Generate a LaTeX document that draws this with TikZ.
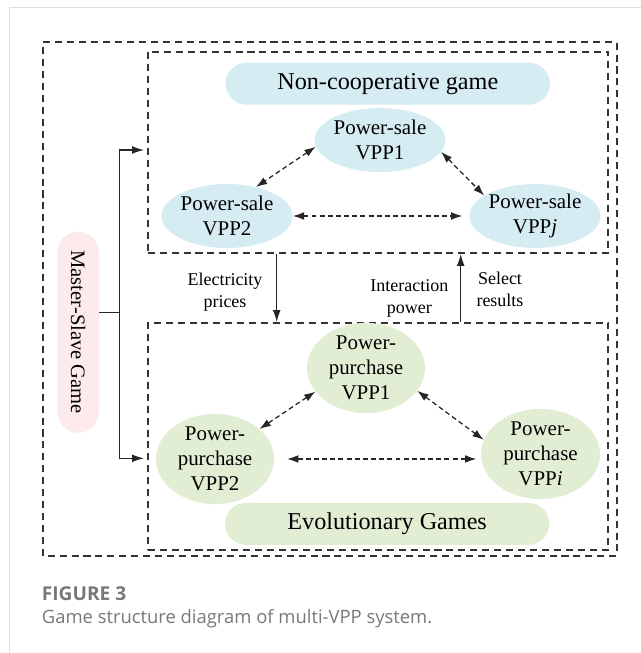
\documentclass[tikz,border=0pt]{standalone}
\usepackage{fontspec}
\setmainfont{Liberation Serif}
\newfontfamily\capfont{Open Sans}
\usetikzlibrary{shapes.geometric,arrows.meta}

\definecolor{saleblue}{RGB}{214,236,243}
\definecolor{buygreen}{RGB}{226,238,212}
\definecolor{masterpink}{RGB}{253,234,234}
\definecolor{framegray}{RGB}{220,220,220}
\definecolor{capgray}{RGB}{120,120,120}

\begin{document}
\begin{tikzpicture}[
  box/.style={draw=black!80, line width=1.3pt, dash pattern=on 5pt off 3.5pt},
  sale/.style={ellipse, fill=saleblue, minimum width=2.95cm, minimum height=1.6cm, inner sep=0pt, align=center, font=\fontsize{14.9}{17.7}\selectfont},
  buy/.style={ellipse, fill=buygreen, minimum width=2.95cm, minimum height=2cm, inner sep=0pt, align=center, font=\fontsize{14.9}{17.7}\selectfont},
  banner/.style={rounded corners=0.525cm, minimum width=8.11cm, minimum height=1.05cm, font=\fontsize{17.2}{20}\selectfont},
  link/.style={{Latex[length=8pt,width=5.5pt]}-{Latex[length=8pt,width=5.5pt]}, draw=black!85, line width=0.9pt, dash pattern=on 3.5pt off 2.3pt},
  flow/.style={-{Latex[length=8.5pt,width=5.5pt]}, draw=black!85, line width=0.8pt},
  note/.style={align=center, font=\fontsize{12.8}{15.6}\selectfont}
]
\useasboundingbox (0,0) rectangle (16.025,16.325);
\draw[framegray, line width=0.7pt] (0.225,0) -- (0.225,16.15) -- (16.025,16.15);

% frames
\draw[box] (1.083,2.425) rectangle (15.418,15.268);
\node[box, minimum width=11.515cm, minimum height=5.033cm, inner sep=0pt] (salebox) at (9.45,12.5165) {};
\node[box, minimum width=11.515cm, minimum height=5.675cm, inner sep=0pt] (buybox) at (9.45,5.4125) {};

% power-sale side
\node[banner, fill=saleblue] (coop) at (9.695,14.233) {Non-cooperative game};
\node[sale] (s1) at (9.5,12.825) {Power-sale\\VPP1};
\node[sale, minimum width=3cm] (s2) at (5.675,10.925) {Power-sale\\VPP2};
\node[sale] (sj) at (13.375,10.925) {Power-sale\\VPP\textit{j}};

\path[draw,link] (s1.186) -- (s2.45);
\path[draw,link] (s1.349) -- (sj.158);
\path[draw,link] (s2.east) -- ([xshift=-0.17cm]sj.west);

% power-purchase side
\node[buy] (b1) at (9.15,7.125) {Power-\\purchase\\VPP1};
\node[buy, minimum height=1.98cm] (b2) at (5.375,4.85) {Power-\\purchase\\VPP2};
\node[buy, minimum width=2.975cm, minimum height=1.98cm] (bi) at (13.5125,4.975) {Power-\\purchase\\VPP\textit{i}};
\node[banner, fill=buygreen] (evo) at (9.679,3.229) {Evolutionary Games};

\path[draw,link] (b1.205) -- (b2.34);
\path[draw,link] (b1.336) -- (bi.166);
\path[draw,link] ([xshift=0.32cm]b2.east) -- ([xshift=-0.11cm]bi.west |- b2.east);

% master-slave game
\node[rotate=-90, fill=masterpink, rounded corners=0.52cm, minimum width=5.03cm, minimum height=1.04cm, font=\fontsize{14.6}{17}\selectfont] (ms) at (1.955,8.02) {Master-Slave Game};
\coordinate (split) at (2.983,8.5175);
\coordinate (toSale) at (3.6,12.575);
\coordinate (toBuy) at (3.6,4.8675);
\path[draw,-,draw=black!85,line width=0.8pt] (ms.north |- split) -- (split);
\path[draw,flow] (split) |- (toSale);
\path[draw,flow] (split) |- (toBuy);

% exchange between the two games
\coordinate (price) at (6.918,9);
\coordinate (select) at (11.518,9);
\path[draw,flow] (salebox.south -| price) -- (buybox.north -| price);
\path[draw,flow] (buybox.north -| select) -- (salebox.south -| select);
\node[note] (lprice) at (5.625,9.025) {Electricity\\prices};
\node[note] (lpower) at (10.233,8.8625) {Interaction\\power};
\node[note] (lselect) at (12.5,9.1) {Select\\results};

% caption
\node[anchor=base west, inner sep=0pt, text=capgray, font=\capfont\bfseries\fontsize{13.6}{15}\selectfont] (fig) at (1.04,1.325) {FIGURE 3};
\node[anchor=base west, inner sep=0pt, text=capgray, font=\capfont\fontsize{13.1}{15}\selectfont] (cap) at (1.04,0.725) {Game structure diagram of multi-VPP system.};
\end{tikzpicture}
\end{document}
